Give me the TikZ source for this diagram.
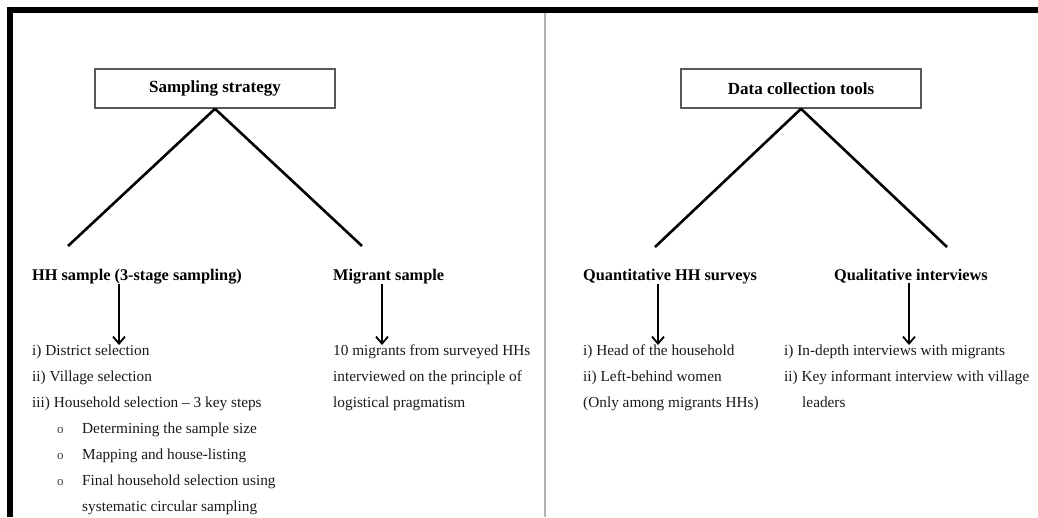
\documentclass[tikz,border=0pt]{standalone}
\usepackage{fontspec}
\setmainfont{Liberation Serif}
\usetikzlibrary{arrows.meta}

\tikzset{
    headbox/.style={draw=black!65, line width=1.6pt, minimum width=240pt, minimum height=39pt, inner sep=0pt, font=\fontsize{17}{20}\selectfont\bfseries},
    subhead/.style={anchor=base west, inner sep=0pt, font=\fontsize{16.3}{19}\selectfont\bfseries},
    item/.style={anchor=base west, inner sep=0pt, text=black!90, font=\fontsize{15.3}{18}\selectfont},
    bul/.style={anchor=base west, inner sep=0pt, text=black!75, font=\fontsize{13}{15}\selectfont},
    branch/.style={line width=2.6pt},
    down/.style={line width=1.5pt, -{Straight Barb[length=7pt,width=12pt,line width=1.8pt]}},
}

\begin{document}
\begin{tikzpicture}[x=1pt, y=-1pt]
        \useasboundingbox (0,0) rectangle (1038,517);

        % frame and divider
        \draw[line width=6pt] (9.7,517) -- (9.7,9.7) -- (1038,9.7);
        \draw[black!30, line width=1.5pt] (545,12.7) -- (545,517);

        % top boxes
        \node[headbox] (samp) at (215,88.5) {Sampling strategy};
        \node[headbox] (tools) at (801,88.5) {Data collection tools};

        \coordinate (hhend) at (68,246);
        \coordinate (migend) at (362,246);
        \coordinate (quantend) at (655,247);
        \coordinate (qualend) at (947,247);
        \draw[branch] (samp.south) -- (hhend);
        \draw[branch] (samp.south) -- (migend);
        \draw[branch] (tools.south) -- (quantend);
        \draw[branch] (tools.south) -- (qualend);

        % sub headings
        \node[subhead] (hh) at (32,280) {HH sample (3-stage sampling)};
        \node[subhead] (mig) at (333,280) {Migrant sample};
        \node[subhead] (quant) at (583,280) {Quantitative HH surveys};
        \node[subhead] (qual) at (834,280) {Qualitative interviews};

        % sampling lists
        \node[item] (hh1) at (32,355) {i) District selection};
        \node[item] (hh2) at (32,381) {ii) Village selection};
        \node[item] (hh3) at (32,407) {iii) Household selection -- 3 key steps};
        \node[bul] (b1) at (57,433) {o};
        \node[item] (s1) at (82,433) {Determining the sample size};
        \node[bul] (b2) at (57,459) {o};
        \node[item] (s2) at (82,459) {Mapping and house-listing};
        \node[bul] (b3) at (57,485) {o};
        \node[item] (s3) at (82,485) {Final household selection using};
        \node[item] (s3b) at (82,511) {systematic circular sampling};

        \node[item] (mig1) at (333,355) {10 migrants from surveyed HHs};
        \node[item] (mig2) at (333,381) {interviewed on the principle of};
        \node[item] (mig3) at (333,407) {logistical pragmatism};

        % tools lists
        \node[item] (quant1) at (583,355) {i) Head of the household};
        \node[item] (quant2) at (583,381) {ii) Left-behind women};
        \node[item] (quant3) at (583,407) {(Only among migrants HHs)};

        \node[item] (qual1) at (784,355) {i) In-depth interviews with migrants};
        \node[item] (qual2) at (784,381) {ii) Key informant interview with village};
        \node[item] (qual3) at (802,407) {leaders};

        % arrows
        \coordinate (hhtip) at (119,345);
        \coordinate (migtip) at (382,345);
        \coordinate (quanttip) at (658,345);
        \coordinate (qualtip) at (909,345);
        \draw[down] (hh.south -| hhtip) -- (hhtip);
        \draw[down] (mig.south -| migtip) -- (migtip);
        \draw[down] (quant.south -| quanttip) -- (quanttip);
        \draw[down] (qual.south -| qualtip) -- (qualtip);
    \end{tikzpicture}
\end{document}
